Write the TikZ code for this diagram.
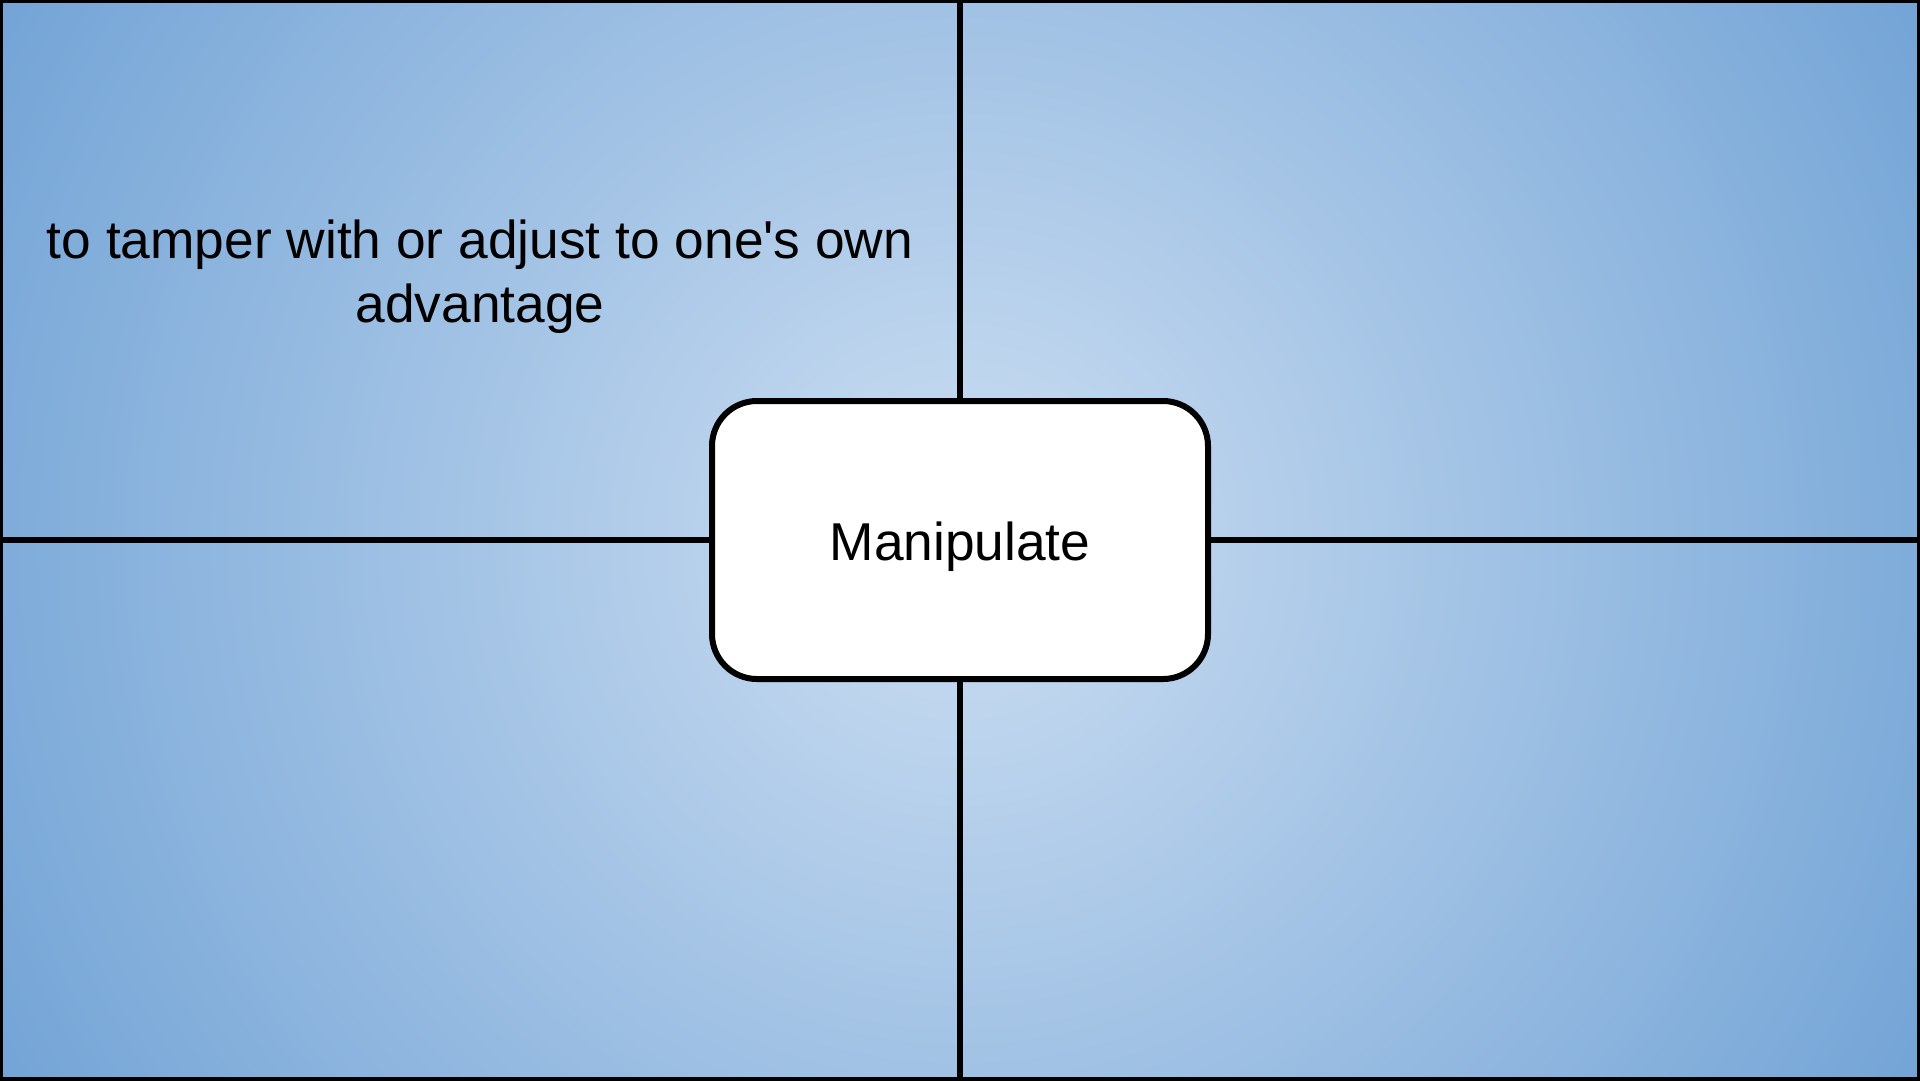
\documentclass[tikz,border=0pt]{standalone}
\usepackage{fontspec}
\setmainfont{Liberation Sans}
\definecolor{bginner}{RGB}{204,222,242}
\definecolor{bgouter}{RGB}{115,164,214}
\pgfdeclareradialshading{bgshade}{\pgfpoint{0bp}{0bp}}{color(0bp)=(bginner); color(25bp)=(bgouter); color(50bp)=(bgouter)}
\begin{document}
\begin{tikzpicture}[x=1pt,y=-1pt,
  frameline/.style={draw=black,line width=6pt},
  divider/.style={draw=black,line width=5.5pt},
  centerbox/.style={draw=black,fill=white,line width=6pt,rounded corners=45pt,
    minimum width=496pt,minimum height=278pt,inner sep=0pt},
  bigtext/.style={font=\fontsize{53.3}{64}\selectfont,text=black,inner sep=0pt}]
\useasboundingbox (0,0) rectangle (1920,1080);
\begin{scope}
  \clip (0,0) rectangle (1920,1080);
  \shade[shading=bgshade] (960,540) circle (1102);
\end{scope}
\coordinate (topedge) at (960,0);
\coordinate (bottomedge) at (960,1080);
\coordinate (leftedge) at (0,540);
\coordinate (rightedge) at (1920,540);
\node[centerbox] (box) at (960,540) {};
\draw[divider] (topedge) -- (box.north);
\draw[divider] (box.south) -- (bottomedge);
\draw[divider] (leftedge) -- (box.west);
\draw[divider] (box.east) -- (rightedge);
\node[bigtext,anchor=base] (title) at (960,560) {Manipulate};
\node[bigtext,anchor=base,align=center] (definition) at (480,322) {to tamper with or adjust to one\textquotesingle s own\\advantage};
\draw[frameline] (0,0) rectangle (1920,1080);
\end{tikzpicture}
\end{document}
